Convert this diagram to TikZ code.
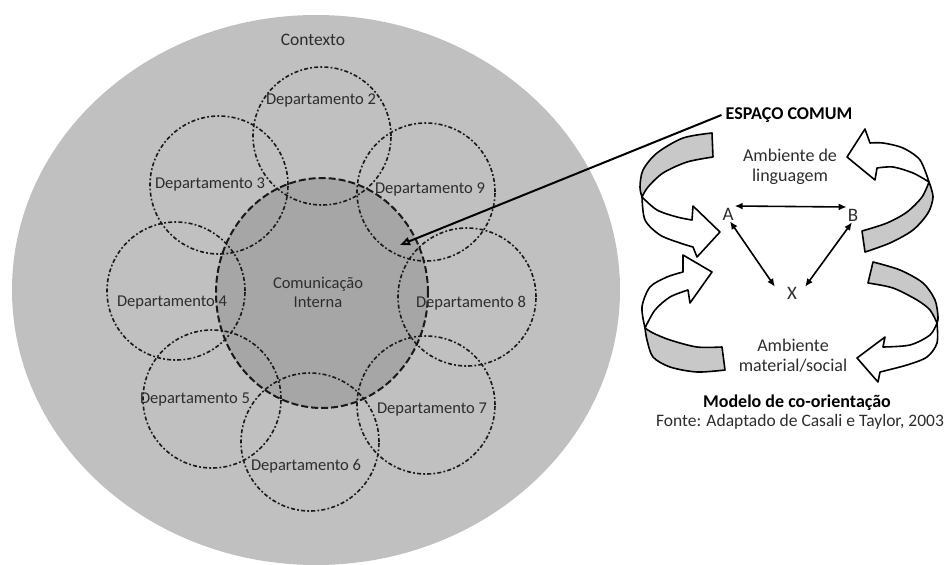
\documentclass[tikz,border=0pt]{standalone}
\usepackage{fontspec}
\setmainfont{Carlito}
\usetikzlibrary{shapes.geometric,arrows.meta}
\definecolor{ctxgray}{RGB}{192,192,192}
\definecolor{innergray}{RGB}{166,166,166}
\definecolor{ribgray}{RGB}{200,200,200}
\definecolor{txt}{RGB}{45,45,45}
\tikzset{
  deptc/.style={circle, draw=black!90, line width=1.6pt, dash pattern=on 4pt off 2.2pt on 1.8pt off 2.2pt, minimum size=138pt, inner sep=0pt},
  lbl/.style={text=txt, font=\fontsize{16.5}{19}\selectfont, inner sep=1pt},
  rlbl/.style={text=txt, font=\fontsize{18}{20}\selectfont, inner sep=1pt, align=center},
  blbl/.style={text=black, font=\fontsize{18}{20}\selectfont\bfseries, inner sep=1pt},
  letter/.style={text=txt, font=\fontsize{19}{21}\selectfont, inner sep=1pt},
  dbl/.style={{Latex[length=8pt,width=7pt]}-{Latex[length=8pt,width=7pt]}, line width=1.6pt},
  rgray/.style={fill=ribgray, draw=black, line width=1.6pt, line join=round},
  rwhite/.style={fill=white, draw=black, line width=1.6pt, line join=round}
}
\begin{document}
\begin{tikzpicture}[x=1pt,y=-1pt]
\useasboundingbox (0,0) rectangle (946,565);
% context
\node[ellipse, fill=ctxgray, minimum width=608pt, minimum height=550pt, inner sep=0pt] (ctx) at (316,290) {};
\node[ellipse, fill=innergray, draw=black!90, line width=2pt, dash pattern=on 7pt off 3pt, minimum width=212pt, minimum height=230pt, inner sep=0pt] (ci) at (322,293) {};
% departments
\node[deptc] (d2) at (322,136) {};
\node[deptc] (d3) at (219,185) {};
\node[deptc] (d9) at (426,192) {};
\node[deptc] (d4) at (176,291) {};
\node[deptc] (d8) at (467,297) {};
\node[deptc] (d5) at (212,399) {};
\node[deptc] (d7) at (426,405) {};
\node[deptc] (d6) at (310,442) {};
% labels
\node[rlbl, font=\fontsize{17.5}{20}\selectfont] (lctx) at (313,40) {Contexto};
\node[lbl] (l2) at (321,100) {Departamento 2};
\node[lbl] (l3) at (210,184) {Departamento 3};
\node[lbl] (l9) at (430,189) {Departamento 9};
\node[lbl] (l4) at (172,303) {Departamento 4};
\node[lbl] (l8) at (471,303) {Departamento 8};
\node[lbl] (l5) at (195,400) {Departamento 5};
\node[lbl] (l7) at (432,410) {Departamento 7};
\node[lbl] (l6) at (306,466) {Departamento 6};
\node[lbl, align=center] (lci) at (318,292) {Comunicação\\Interna};
% espaco comum
\node[blbl, inner sep=4pt] (esp) at (789,115) {ESPAÇO COMUM};
\coordinate (tipE) at (400,245);
\draw[line width=2pt, -{Triangle[open,length=10pt,width=8pt]}] (esp.west) -- (tipE);
% co-orientation model
\node[rlbl] (amb1) at (790,167) {Ambiente de\\linguagem};
\node[rlbl] (amb2) at (793,356) {Ambiente\\material/social};
\node[letter] (A) at (728,214) {A};
\node[letter] (B) at (853,215) {B};
\node[letter] (X) at (792,293) {X};
\draw[dbl] ([yshift=8pt]A.east) -- ([yshift=8pt]B.west);
\draw[dbl] ([xshift=2pt]A.south) -- ([xshift=-11pt,yshift=-1pt]X.north west);
\draw[dbl] ([xshift=-1pt]B.south) -- ([xshift=7pt,yshift=-1pt]X.north east);
\node[blbl] (mod) at (797,403) {Modelo de co-orientação};
\node[rlbl, font=\fontsize{17.5}{20}\selectfont] (fonte) at (800,422) {Fonte: Adaptado de Casali e Taylor, 2003};
% ribbon arrows
% top-left
\filldraw[rgray] plot[smooth] coordinates {(712,133) (683,138) (657,153) (643,170) (640,187) (642,197)} -- plot[smooth] coordinates {(642,197) (648,187) (663,173) (687,162) (713,157)} -- cycle;
\filldraw[rwhite] plot[smooth] coordinates {(642,197) (657,210) (677,217) (692,220)} -- (693,206) -- (720,232) -- (697,257) -- (693,247) -- plot[smooth] coordinates {(693,247) (680,243) (660,235) (645,220) (642,197)} -- cycle;
% top-right
\filldraw[rgray] plot[smooth] coordinates {(865,252) (890,243) (913,230) (928,213) (933,197) (929,182)} -- plot[smooth] coordinates {(929,182) (922,197) (907,212) (887,223) (862,231)} -- cycle;
\filldraw[rwhite] plot[smooth] coordinates {(929,182) (920,160) (903,148) (883,143) (870,143)} -- (865,129) -- (847,157) -- (875,180) -- (877,168) -- plot[smooth] coordinates {(877,168) (893,167) (913,173) (929,182)} -- cycle;
% bottom-left
\filldraw[rgray] plot[smooth] coordinates {(722,347) (697,347) (670,340) (653,333) (645,328)} -- plot[smooth] coordinates {(645,328) (647,340) (653,357) (670,367) (697,372) (725,370)} -- cycle;
\filldraw[rwhite] plot[smooth] coordinates {(645,328) (642,307) (650,287) (667,277) (683,272)} -- (683,255) -- (712,272) -- (690,303) -- (688,290) -- plot[smooth] coordinates {(688,290) (670,297) (655,310) (645,328)} -- cycle;
% bottom-right
\filldraw[rgray] plot[smooth] coordinates {(873,262) (900,270) (923,283) (935,300) (938,317) (937,323)} -- plot[smooth] coordinates {(937,323) (930,310) (917,300) (893,288) (868,283)} -- cycle;
\filldraw[rwhite] plot[smooth] coordinates {(937,323) (937,343) (927,357) (907,365) (880,372)} -- (878,382) -- (857,358) -- (885,337) -- (883,347) -- plot[smooth] coordinates {(883,347) (910,345) (930,335) (937,323)} -- cycle;
\end{tikzpicture}
\end{document}
